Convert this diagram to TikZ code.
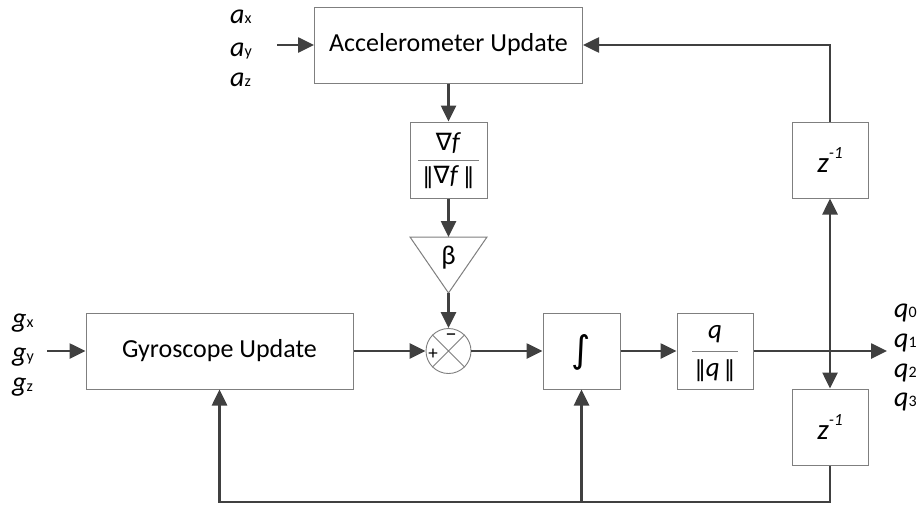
\documentclass[tikz,border=0pt]{standalone}
\usepackage{fontspec}
\usepackage{graphicx}
\setmainfont{Carlito}
\newfontfamily\symfam{DejaVu Sans}
\usetikzlibrary{arrows.meta,calc}

\definecolor{wirecol}{HTML}{404040}
\definecolor{edgecol}{HTML}{7F7F7F}

\newcommand{\fs}[1]{\fontsize{#1}{#1}\selectfont}
% italic symbol with a small upright index set on the baseline
\newcommand{\sig}[2]{{\fs{28}\itshape #1}{\fs{16}#2}}
\newcommand{\zinv}{{\fs{29}\itshape z\raisebox{0.5em}{\fs{17}-1}}}

\tikzset{
  wire/.style={draw=wirecol, line width=2.6pt},
  arr/.style={wire, -{Triangle[length=16pt,width=15pt]}},
  block/.style={draw=edgecol, line width=1pt, fill=white, rectangle,
    inner sep=0pt, minimum width=#1, minimum height=76pt},
  block/.default=77pt,
  lbl/.style={anchor=base west, inner sep=0pt},
}

\begin{document}
\begin{tikzpicture}[x=1pt, y=-1pt]
  \useasboundingbox (0,0) rectangle (920,506);

  % ---- blocks ----
  \node[block=268pt] (acc)  at (448.5,45)  {\fs{26}Accelerometer Update};
  \node[block]       (grad) at (448.5,160) {};
  \node[block=267pt] (gyro) at (219.5,351) {\fs{26}Gyroscope Update};
  \node[block]       (int)  at (581.5,351) {};
  \node[block=76pt]  (norm) at (715,351)   {};
  \node[block=76pt]  (zup)  at (830,160)   {\zinv};
  \node[block=76pt]  (zdn)  at (830,427)   {\zinv};

  % normalised gradient
  \node (gnum) at (448.5,143) {\fs{26}{\symfam\fs{24}∇}\textit{f}};
  \draw[edgecol, line width=0.8pt] (418,160) -- (479,160);
  \node (gden) at (448.5,177) {\fs{26}{\symfam\fs{22}‖}{\symfam\fs{24}∇}\textit{f}\,{\symfam\fs{22}‖}};

  % integrator
  \node at (581.5,352) {\symfam\itshape\fs{37}∫};

  % normalised quaternion
  \node at (715,334) {\fs{27}\itshape q};
  \draw[edgecol, line width=0.8pt] (692,351) -- (738,351);
  \node at (715,371) {\fs{27}{\symfam\fs{22}‖}\textit{q}\,{\symfam\fs{22}‖}};

  % gain triangle
  \draw[edgecol, line width=1pt, fill=white] (410,237) -- (487,237) -- (448.5,293) -- cycle;
  \coordinate (btop) at (448.5,237);
  \coordinate (btip) at (448.5,293);
  \node at (448.5,258) {\fs{27}β};

  % summing junction
  \node[draw=edgecol, line width=0.9pt, circle, minimum size=45pt, inner sep=0pt, fill=white] (sum) at (448.5,351) {};
  \draw[edgecol, line width=0.8pt] (sum.north west) -- (sum.south east)
                                   (sum.north east) -- (sum.south west);
  \node at (433,354) {\fs{19}+};
  \node at (451,338) {\fs{22}−};

  % ---- inputs and outputs ----
  \node[lbl] at (230,23) {\sig{a}{x}};
  \node[lbl] at (230,56) {\sig{a}{y}};
  \node[lbl] at (230,86) {\sig{a}{z}};
  \coordinate (ain) at (277,45);

  \node[lbl] at (12,327) {\sig{g}{x}};
  \node[lbl] at (12,361) {\sig{g}{y}};
  \node[lbl] at (12,391) {\sig{g}{z}};
  \coordinate (gin) at (47,351);

  \node[lbl] at (894,317) {\sig{q}{0}};
  \node[lbl] at (894,347) {\sig{q}{1}};
  \node[lbl] at (894,377) {\sig{q}{2}};
  \node[lbl] at (894,406) {\sig{q}{3}};
  \coordinate (qout) at (887,351);

  \coordinate (br) at (830,351);
  \coordinate (fb) at (830,502);

  % ---- connectors ----
  \draw[arr] (ain) -- (acc.west);
  \draw[arr] (acc.south) -- (grad.north);
  \draw[arr] (grad.south) -- (btop);
  \draw[arr] (btip) -- (sum.north);
  \draw[arr] (gin) -- (gyro.west);
  \draw[arr] (gyro.east) -- (sum.west);
  \draw[arr] (sum.east) -- (int.west);
  \draw[arr] (int.east) -- (norm.west);
  \draw[arr] (norm.east) -- (qout);
  \draw[arr] (br) -- (zup.south);
  \draw[arr] (br) -- (zdn.north);
  \draw[arr] (zup.north) |- (acc.east);
  \draw[arr] (zdn.south) -- (fb) -| (gyro.south);
  \draw[arr] (int.south |- fb) -- (int.south);
\end{tikzpicture}
\end{document}
